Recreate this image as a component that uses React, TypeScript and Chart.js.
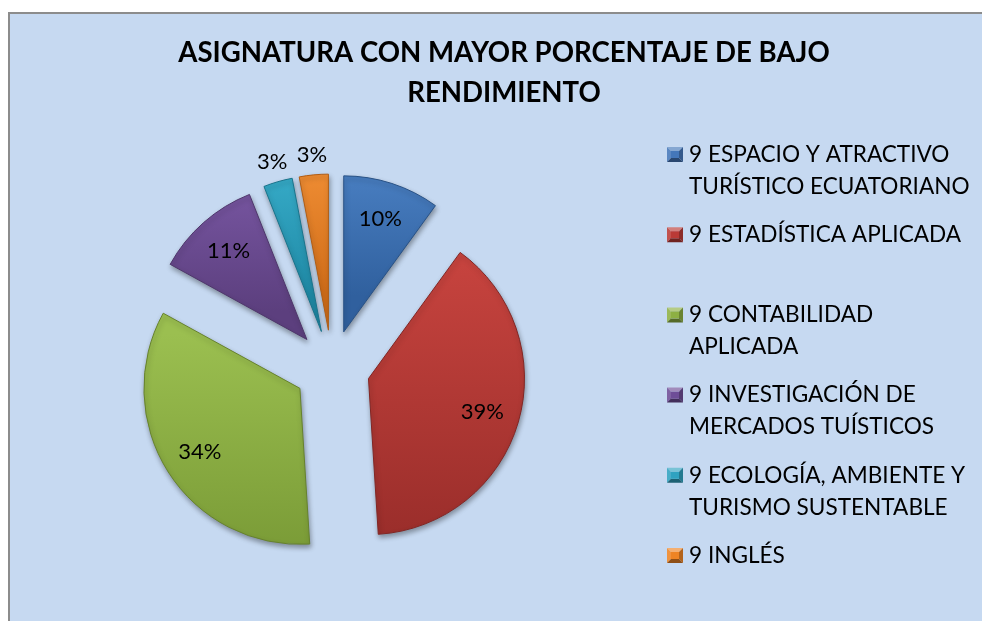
import React, { useEffect, useRef } from 'react';
import { Chart, registerables } from 'chart.js';

Chart.register(...registerables);

const TITLE_LINES = ['ASIGNATURA CON MAYOR PORCENTAJE DE BAJO', 'RENDIMIENTO'];
const CATEGORIES = [
  ['9 ESPACIO Y ATRACTIVO', 'TURÍSTICO ECUATORIANO'],
  ['9 ESTADÍSTICA APLICADA'],
  ['9 CONTABILIDAD', 'APLICADA'],
  ['9 INVESTIGACIÓN DE', 'MERCADOS TUÍSTICOS'],
  ['9 ECOLOGÍA, AMBIENTE Y', 'TURISMO SUSTENTABLE'],
  ['9 INGLÉS'],
];
const VALUES = [10, 39, 34, 11, 3, 3];
const BASE_COLORS = ['#4477BA', '#BA3A36', '#8DB043', '#6E4D97', '#2FA2C0', '#EE8424'];
const TOP_COLORS = ['#4F86CA', '#C6433E', '#9BBF50', '#7B59A6', '#3CB3D0', '#F7953A'];
const BOTTOM_COLORS = ['#30609E', '#992D2A', '#789935', '#5C3F7E', '#1F89A5', '#D06D19'];

const FONT = "Lato, 'Open Sans', 'Liberation Sans', sans-serif";
const EXPLODE = 38;
const BORDER_W = 1;
const RADIUS = 156;
const CENTER_X = 332;
const CENTER_Y = 368;

const total = VALUES.reduce((a, b) => a + b, 0);

function shade(hex: string, f: number) {
  const n = parseInt(hex.slice(1), 16);
  let r = (n >> 16) & 255, g = (n >> 8) & 255, b = n & 255;
  if (f >= 0) {
    r = r + (255 - r) * f; g = g + (255 - g) * f; b = b + (255 - b) * f;
  } else {
    r = r * (1 + f); g = g * (1 + f); b = b * (1 + f);
  }
  return `rgb(${Math.round(r)},${Math.round(g)},${Math.round(b)})`;
}

function sliceYRange(area: any, i: number) {
  const cy = (area.top + area.bottom) / 2;
  const R = (Math.min(area.right - area.left, area.bottom - area.top) - BORDER_W) / 2;
  let cum = 0;
  for (let k = 0; k < i; k++) cum += VALUES[k];
  const s = -Math.PI / 2 + (cum / total) * Math.PI * 2;
  const e = s + (VALUES[i] / total) * Math.PI * 2;
  const mid = (s + e) / 2;
  const ay = cy + Math.sin(mid) * EXPLODE;
  let y0 = ay, y1 = ay;
  for (let t = 0; t <= 40; t++) {
    const a = s + ((e - s) * t) / 40;
    const y = ay + Math.sin(a) * R;
    y0 = Math.min(y0, y);
    y1 = Math.max(y1, y);
  }
  return [y0, y1];
}

const framePlugin = {
  id: 'frame',
  beforeDraw(chart: any) {
    const ctx = chart.ctx;
    const w = chart.width, h = chart.height;
    ctx.save();
    ctx.fillStyle = '#FFFFFF';
    ctx.fillRect(0, 0, w, h);
    ctx.fillStyle = '#C6D9F1';
    ctx.fillRect(8, 12, w - 8, h - 12);
    ctx.fillStyle = '#8C8C8C';
    ctx.fillRect(8, 12, 2, h - 12);
    ctx.fillRect(8, 12, w - 8, 2);
    ctx.restore();
  },
};

const titlePlugin = {
  id: 'customTitle',
  afterDraw(chart: any) {
    const ctx = chart.ctx;
    ctx.save();
    ctx.fillStyle = '#000';
    ctx.font = `bold 27.6px ${FONT}`;
    ctx.textAlign = 'center';
    ctx.textBaseline = 'middle';
    TITLE_LINES.forEach((line, i) => ctx.fillText(line, 504, 53 + i * 40));
    ctx.restore();
  },
};

// draws the library's arc elements, each pushed out along its bisector (exploded pie)
const explodePlugin = {
  id: 'explode',
  beforeDatasetsDraw(chart: any) {
    const ctx = chart.ctx;
    const meta = chart.getDatasetMeta(0);
    ctx.save();
    ctx.shadowColor = 'rgba(0,0,0,0.35)';
    ctx.shadowBlur = 5;
    ctx.shadowOffsetX = 1;
    ctx.shadowOffsetY = 3;
    meta.data.forEach((el: any) => {
      const mid = (el.startAngle + el.endAngle) / 2;
      ctx.save();
      ctx.translate(Math.cos(mid) * EXPLODE, Math.sin(mid) * EXPLODE);
      el.draw(ctx);
      ctx.restore();
    });
    ctx.restore();
    return false;
  },
};

const labelPlugin = {
  id: 'pctLabels',
  afterDraw(chart: any) {
    const ctx = chart.ctx;
    const meta = chart.getDatasetMeta(0);
    ctx.save();
    ctx.fillStyle = '#000';
    ctx.font = `22px ${FONT}`;
    ctx.textAlign = 'center';
    ctx.textBaseline = 'middle';
    meta.data.forEach((el: any, i: number) => {
      const { x, y, startAngle, endAngle, outerRadius } = el.getProps(['x', 'y', 'startAngle', 'endAngle', 'outerRadius'], true);
      const mid = (startAngle + endAngle) / 2;
      const pct = Math.round((VALUES[i] / total) * 100);
      const k = pct < 5 ? 1.13 : 0.76;
      const d = EXPLODE + outerRadius * k;
      ctx.fillText(`${pct}%`, x + Math.cos(mid) * d, y + Math.sin(mid) * d);
    });
    ctx.restore();
  },
};

const legendPlugin = {
  id: 'customLegend',
  afterDraw(chart: any) {
    const ctx = chart.ctx;
    const markerX = 667;
    const textX = 689;
    const firstY = 154.5;
    const step = 80.2;
    const lineH = 32;
    const size = 15;
    ctx.save();
    ctx.font = `22.6px ${FONT}`;
    ctx.textBaseline = 'middle';
    ctx.textAlign = 'left';
    CATEGORIES.forEach((lines, i) => {
      const y = firstY + i * step;
      const x0 = markerX, y0 = y - size / 2, x1 = x0 + size + 1, y1 = y0 + size;
      const base = BASE_COLORS[i];
      const inset = 4;
      const tri = (pts: number[][], col: string) => {
        ctx.beginPath();
        ctx.moveTo(pts[0][0], pts[0][1]);
        for (let p = 1; p < pts.length; p++) ctx.lineTo(pts[p][0], pts[p][1]);
        ctx.closePath();
        ctx.fillStyle = col;
        ctx.fill();
      };
      const ix0 = x0 + inset, iy0 = y0 + inset, ix1 = x1 - inset, iy1 = y1 - inset;
      tri([[x0, y0], [x1, y0], [ix1, iy0], [ix0, iy0]], shade(base, 0.35));
      tri([[x0, y0], [ix0, iy0], [ix0, iy1], [x0, y1]], shade(base, 0.12));
      tri([[x1, y0], [x1, y1], [ix1, iy1], [ix1, iy0]], shade(base, -0.25));
      tri([[x0, y1], [ix0, iy1], [ix1, iy1], [x1, y1]], shade(base, -0.4));
      ctx.fillStyle = base;
      ctx.fillRect(ix0, iy0, ix1 - ix0, iy1 - iy0);
      ctx.fillStyle = '#000';
      lines.forEach((t, j) => ctx.fillText(t, textX, y + j * lineH));
    });
    ctx.restore();
  },
};

export default function App() {
  const ref = useRef<HTMLCanvasElement | null>(null);
  useEffect(() => {
    document.documentElement.style.overflow = 'hidden';
    document.body.style.overflow = 'hidden';
    document.body.style.margin = '0';
    if (!ref.current) return;
    const side = RADIUS * 2 + BORDER_W;
    const chart = new Chart(ref.current, {
      type: 'pie',
      data: {
        labels: CATEGORIES.map((l) => l.join(' ')),
        datasets: [
          {
            data: VALUES,
            backgroundColor: (c: any) => {
              const i = c.dataIndex;
              const area = c.chart.chartArea;
              if (!area || i === undefined) return BASE_COLORS[i ?? 0];
              const [y0, y1] = sliceYRange(area, i);
              const g = c.chart.ctx.createLinearGradient(0, y0, 0, y1);
              g.addColorStop(0, TOP_COLORS[i]);
              g.addColorStop(1, BOTTOM_COLORS[i]);
              return g;
            },
            borderColor: BOTTOM_COLORS.map((c) => shade(c, -0.15)),
            borderWidth: BORDER_W,
            offset: 0,
            hoverOffset: 0,
          },
        ],
      },
      options: {
        responsive: false,
        animation: false,
        layout: {
          padding: {
            left: CENTER_X - side / 2,
            top: CENTER_Y - side / 2,
            right: 982 - (CENTER_X + side / 2),
            bottom: 621 - (CENTER_Y + side / 2),
          },
        },
        plugins: {
          legend: { display: false },
          title: { display: false },
          tooltip: { enabled: false },
        },
        events: [],
      },
      plugins: [framePlugin, explodePlugin, labelPlugin, titlePlugin, legendPlugin],
    });
    return () => chart.destroy();
  }, []);

  return (
    <div style={{ position: 'fixed', left: 0, top: 0, width: 982, height: 621, overflow: 'hidden', background: '#C6D9F1' }}>
      <canvas ref={ref} width={982} height={621} style={{ position: 'absolute', left: 0, top: 0, display: 'block' }} />
    </div>
  );
}
